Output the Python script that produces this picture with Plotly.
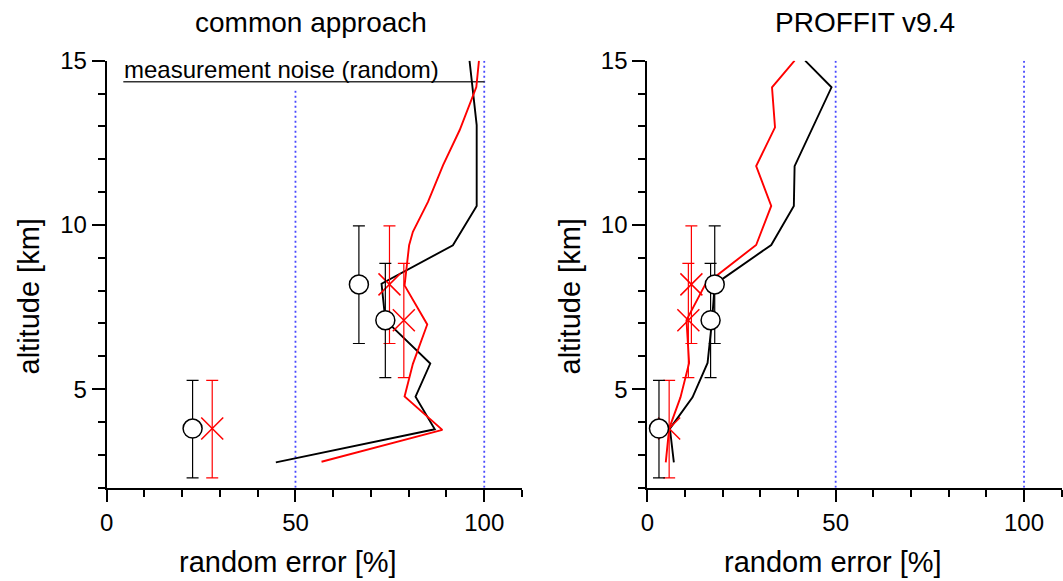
import plotly.graph_objects as go

# ---- profile data: altitude [km] vs random error [%] ----
left_black_alt = [2.77, 3.78, 4.77, 5.78, 7.10, 8.21, 9.38, 10.58, 13.04, 15.0]
left_black_err = [44.8, 86.9, 81.8, 85.7, 73.8, 72.8, 91.7, 98.0, 98.0, 96.1]

left_red_alt = [2.79, 3.76, 4.78, 5.77, 6.97, 8.16, 9.38, 9.79, 10.70, 11.82, 12.89, 14.20, 15.0]
left_red_err = [56.9, 88.9, 78.9, 81.1, 84.9, 78.9, 80.1, 81.1, 85.1, 89.1, 93.5, 97.9, 98.6]

right_black_alt = [2.77, 3.80, 4.75, 5.80, 7.10, 8.19, 9.39, 10.58, 11.79, 14.19, 15.0]
right_black_err = [7.05, 6.0, 12.0, 16.0, 17.2, 17.9, 32.9, 38.9, 39.1, 48.9, 41.9]

right_red_alt = [2.77, 3.80, 4.75, 5.80, 7.10, 8.19, 9.39, 10.58, 11.79, 12.97, 14.19, 15.0]
right_red_err = [4.9, 5.8, 8.8, 11.1, 10.4, 15.4, 28.9, 32.9, 28.9, 33.9, 33.1, 39.1]

# ---- averaged points with altitude ranges ----
pt_alt = [3.80, 8.19, 7.10]
alt_lo = [2.30, 6.39, 5.35]
alt_hi = [5.27, 9.97, 8.83]
left_circ = [22.75, 66.8, 73.8]
left_cross = [27.95, 74.9, 78.7]
right_circ = [3.1, 17.9, 16.8]
right_cross = [5.8, 11.7, 10.9]

# measurement noise level line
noise_alt = 14.36
noise_x = [4.4, 100.1]

panel_titles = ["common approach", "PROFFIT v9.4"]
x_title = "random error [%]"
y_title = "altitude [km]"

FONT = "Liberation Sans, Arial, sans-serif"
W, H = 1063, 581

err_plus = [h - a for h, a in zip(alt_hi, pt_alt)]
err_minus = [a - l for a, l in zip(pt_alt, alt_lo)]

fig = go.Figure()


def add_panel(xa, ya, bx, by, rx, ry, circ, cross):
    fig.add_trace(go.Scatter(x=bx, y=by, mode="lines", xaxis=xa, yaxis=ya,
                             line=dict(color="black", width=1.9), showlegend=False))
    fig.add_trace(go.Scatter(x=rx, y=ry, mode="lines", xaxis=xa, yaxis=ya,
                             line=dict(color="#ff0000", width=1.9), showlegend=False))
    fig.add_trace(go.Scatter(
        x=cross, y=pt_alt, mode="markers", xaxis=xa, yaxis=ya, showlegend=False,
        marker=dict(symbol="x-thin-open", size=22, color="#ff0000",
                    line=dict(color="#ff0000", width=1.5)),
        error_y=dict(type="data", symmetric=False, array=err_plus, arrayminus=err_minus,
                     color="#ff0000", thickness=1.2, width=6)))
    fig.add_trace(go.Scatter(
        x=circ, y=pt_alt, mode="markers", xaxis=xa, yaxis=ya, showlegend=False,
        marker=dict(symbol="circle", size=19, color="white",
                    line=dict(color="black", width=1.5)),
        error_y=dict(type="data", symmetric=False, array=err_plus, arrayminus=err_minus,
                     color="black", thickness=1.2, width=6)))


add_panel("x", "y", left_black_err, left_black_alt, left_red_err, left_red_alt,
          left_circ, left_cross)
add_panel("x2", "y2", right_black_err, right_black_alt, right_red_err, right_red_alt,
          right_circ, right_cross)

shapes = []
for xr, yr in (("x", "y"), ("x2", "y2")):
    for xv in (50, 100):
        shapes.append(dict(type="line", xref=xr, yref=yr, x0=xv, x1=xv, y0=2, y1=15,
                           layer="below",
                           line=dict(color="#4848ff", width=1.8, dash="2px,3px")))
# white label box behind the noise annotation
shapes.append(dict(type="rect", xref="x", yref="y", x0=3, x1=98, y0=14.1, y1=15,
                   fillcolor="white", line=dict(width=0), layer="below"))
shapes.append(dict(type="line", xref="x", yref="y", x0=noise_x[0], x1=noise_x[1],
                   y0=noise_alt, y1=noise_alt, layer="below",
                   line=dict(color="#333333", width=1.5)))


def label(text, px, py, size, angle=0):
    return dict(text=text, xref="paper", yref="paper", x=px / W, y=1 - py / H,
                xanchor="center", yanchor="middle", textangle=angle, showarrow=False,
                font=dict(size=size, family=FONT, color="black"))


annotations = [
    label(panel_titles[0], 311, 23, 28),
    label(panel_titles[1], 865, 23, 28),
    label(x_title, 287.5, 562, 29),
    label(x_title, 832.5, 562, 29),
    label(y_title, 28, 296.5, 29, -90),
    label(y_title, 569, 296.5, 29, -90),
    dict(text="measurement noise (random)", xref="x", yref="y", x=4.0, y=14.73,
         xanchor="left", yanchor="middle", showarrow=False,
         font=dict(size=24, family=FONT, color="black")),
]

xaxis_common = dict(range=[0, 110], tickvals=[0, 50, 100], ticks="outside", ticklen=12,
                    tickwidth=2, tickcolor="black", showline=True, linecolor="black",
                    linewidth=2, showgrid=False, zeroline=False, automargin=False,
                    tickfont=dict(size=24, family=FONT, color="black"),
                    minor=dict(dtick=10, tick0=0, ticks="outside", ticklen=7,
                               tickwidth=2, tickcolor="black", showgrid=False))
yaxis_common = dict(range=[2, 15], tickvals=[5, 10, 15], ticks="outside", ticklen=13,
                    tickwidth=2, tickcolor="black", showline=True, linecolor="black",
                    linewidth=2, showgrid=False, zeroline=False, automargin=False,
                    tickfont=dict(size=24, family=FONT, color="black"),
                    domain=[1 - 487.7 / H, 1 - 60.7 / H],
                    minor=dict(dtick=1, tick0=0, ticks="outside", ticklen=7,
                               tickwidth=2, tickcolor="black", showgrid=False))

fig.update_layout(
    width=W, height=H,
    margin=dict(l=0, r=0, t=0, b=0, pad=0, autoexpand=False),
    paper_bgcolor="white", plot_bgcolor="white",
    font=dict(family=FONT, color="black"),
    xaxis=dict(xaxis_common, domain=[106.7 / W, 522 / W], anchor="y"),
    xaxis2=dict(xaxis_common, domain=[647.3 / W, 1061.7 / W], anchor="y2"),
    yaxis=dict(yaxis_common, anchor="x"),
    yaxis2=dict(yaxis_common, anchor="x2"),
    shapes=shapes,
    annotations=annotations,
    showlegend=False,
)

fig.write_html("out.html")
